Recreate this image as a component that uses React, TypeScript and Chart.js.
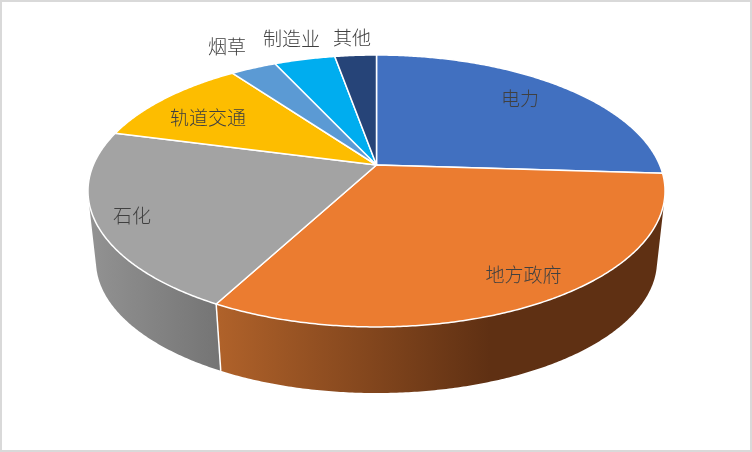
import React, { useEffect, useRef } from "react";
import { Chart, registerables } from "chart.js";

Chart.register(...registerables);

const categories = ["电力", "地方政府", "石化", "轨道交通", "烟草", "制造业", "其他"];
const shares = [26, 31.8, 21.3, 10.9, 3.1, 4.1, 2.8];
const topColors = ["#4170C0", "#EB7C30", "#A3A3A3", "#FDBD00", "#5B9AD4", "#00ADEF", "#264478"];
const sideRamps: (string[] | null)[] = [
  null,
  ["#B0622A", "#5F3013"],
  ["#929292", "#757575"],
  null,
  null,
  null,
  null,
];
const labelPositions = [
  [520, 99],
  [523.5, 275],
  [132, 216],
  [208, 118],
  [227, 47],
  [291.5, 39],
  [352, 38],
];

const CX = 376.5;
const topDisc = { r: 283.2, a: 131, p: 0.191, y0: 165 };
const bottomDisc = { r: 275.4, a: 127.2, p: 0.19, y0: 236 };

type Disc = typeof topDisc;

const project = (d: Disc, angle: number) => {
  const u = Math.cos(angle);
  const v = Math.sin(angle);
  const w = 1 - d.p * v;
  return [CX + (d.r * u) / w, d.y0 + (d.a * v) / w];
};

const pie3d = {
  id: "pie3d",
  beforeDatasetsDraw(chart: any) {
    const ctx: CanvasRenderingContext2D = chart.ctx;
    const arcs = chart.getDatasetMeta(0).data;
    const STEP = Math.PI / 360;
    const spans = arcs.map((arc: any) => arc.getProps(["startAngle", "endAngle"], true));

    // side wall, front-facing part of each slice
    spans.forEach((s: any, i: number) => {
      const ramp = sideRamps[i];
      if (!ramp) return;
      const g = ctx.createLinearGradient(i === 1 ? 217 : 90, 0, i === 1 ? 490 : 217, 0);
      g.addColorStop(0, ramp[0]);
      g.addColorStop(1, ramp[1]);
      ctx.fillStyle = g;
      ctx.beginPath();
      for (let a = s.startAngle; a < s.endAngle; a += STEP) {
        const b = Math.min(a + STEP, s.endAngle);
        if (Math.sin(a) < 0.12 && Math.sin(b) < 0.12) continue;
        const q = [project(topDisc, a), project(topDisc, b), project(bottomDisc, b), project(bottomDisc, a)];
        let area = 0;
        q.forEach((p, k) => {
          const n = q[(k + 1) % 4];
          area += p[0] * n[1] - n[0] * p[1];
        });
        const pts = area > 0 ? q : [...q].reverse();
        ctx.moveTo(pts[0][0], pts[0][1]);
        pts.slice(1).forEach((p) => ctx.lineTo(p[0], p[1]));
        ctx.closePath();
      }
      ctx.fill();
    });

    // white seam between visible side walls
    ctx.strokeStyle = "#FFFFFF";
    ctx.lineWidth = 1.5;
    spans.forEach((s: any) => {
      if (Math.sin(s.endAngle) < 0.5) return;
      const t = project(topDisc, s.endAngle);
      const b = project(bottomDisc, s.endAngle);
      ctx.beginPath();
      ctx.moveTo(t[0], t[1]);
      ctx.lineTo(b[0], b[1]);
      ctx.stroke();
    });

    // top face
    spans.forEach((s: any, i: number) => {
      ctx.beginPath();
      ctx.moveTo(CX, topDisc.y0);
      for (let a = s.startAngle; a < s.endAngle; a += STEP) {
        const p = project(topDisc, a);
        ctx.lineTo(p[0], p[1]);
      }
      const e = project(topDisc, s.endAngle);
      ctx.lineTo(e[0], e[1]);
      ctx.closePath();
      ctx.fillStyle = topColors[i];
      ctx.fill();
      ctx.strokeStyle = "#FFFFFF";
      ctx.lineWidth = 1.5;
      ctx.lineJoin = "round";
      ctx.stroke();
    });

    // labels
    ctx.fillStyle = "#404040";
    ctx.font = '300 19px "Noto Sans CJK SC"';
    ctx.textAlign = "center";
    ctx.textBaseline = "middle";
    categories.forEach((c, i) => ctx.fillText(c, labelPositions[i][0], labelPositions[i][1]));
    return false;
  },
};

export default function App() {
  const ref = useRef<HTMLCanvasElement>(null);
  useEffect(() => {
    const chart = new Chart(ref.current as HTMLCanvasElement, {
      type: "pie",
      data: {
        labels: categories,
        datasets: [{ data: shares, backgroundColor: topColors }],
      },
      options: {
        responsive: false,
        animation: false,
        devicePixelRatio: 1,
        plugins: { legend: { display: false }, tooltip: { enabled: false } },
      },
      plugins: [pie3d],
    } as any);
    return () => chart.destroy();
  }, []);
  return (
    <div
      style={{
        position: "fixed",
        left: 0,
        top: 0,
        width: 752,
        height: 452,
        boxSizing: "border-box",
        border: "2px solid #D9D9D9",
        background: "#FFFFFF",
        overflow: "hidden",
      }}
    >
      <canvas
        ref={ref}
        width={752}
        height={452}
        style={{ position: "absolute", left: -2, top: -2, display: "block" }}
      />
    </div>
  );
}
